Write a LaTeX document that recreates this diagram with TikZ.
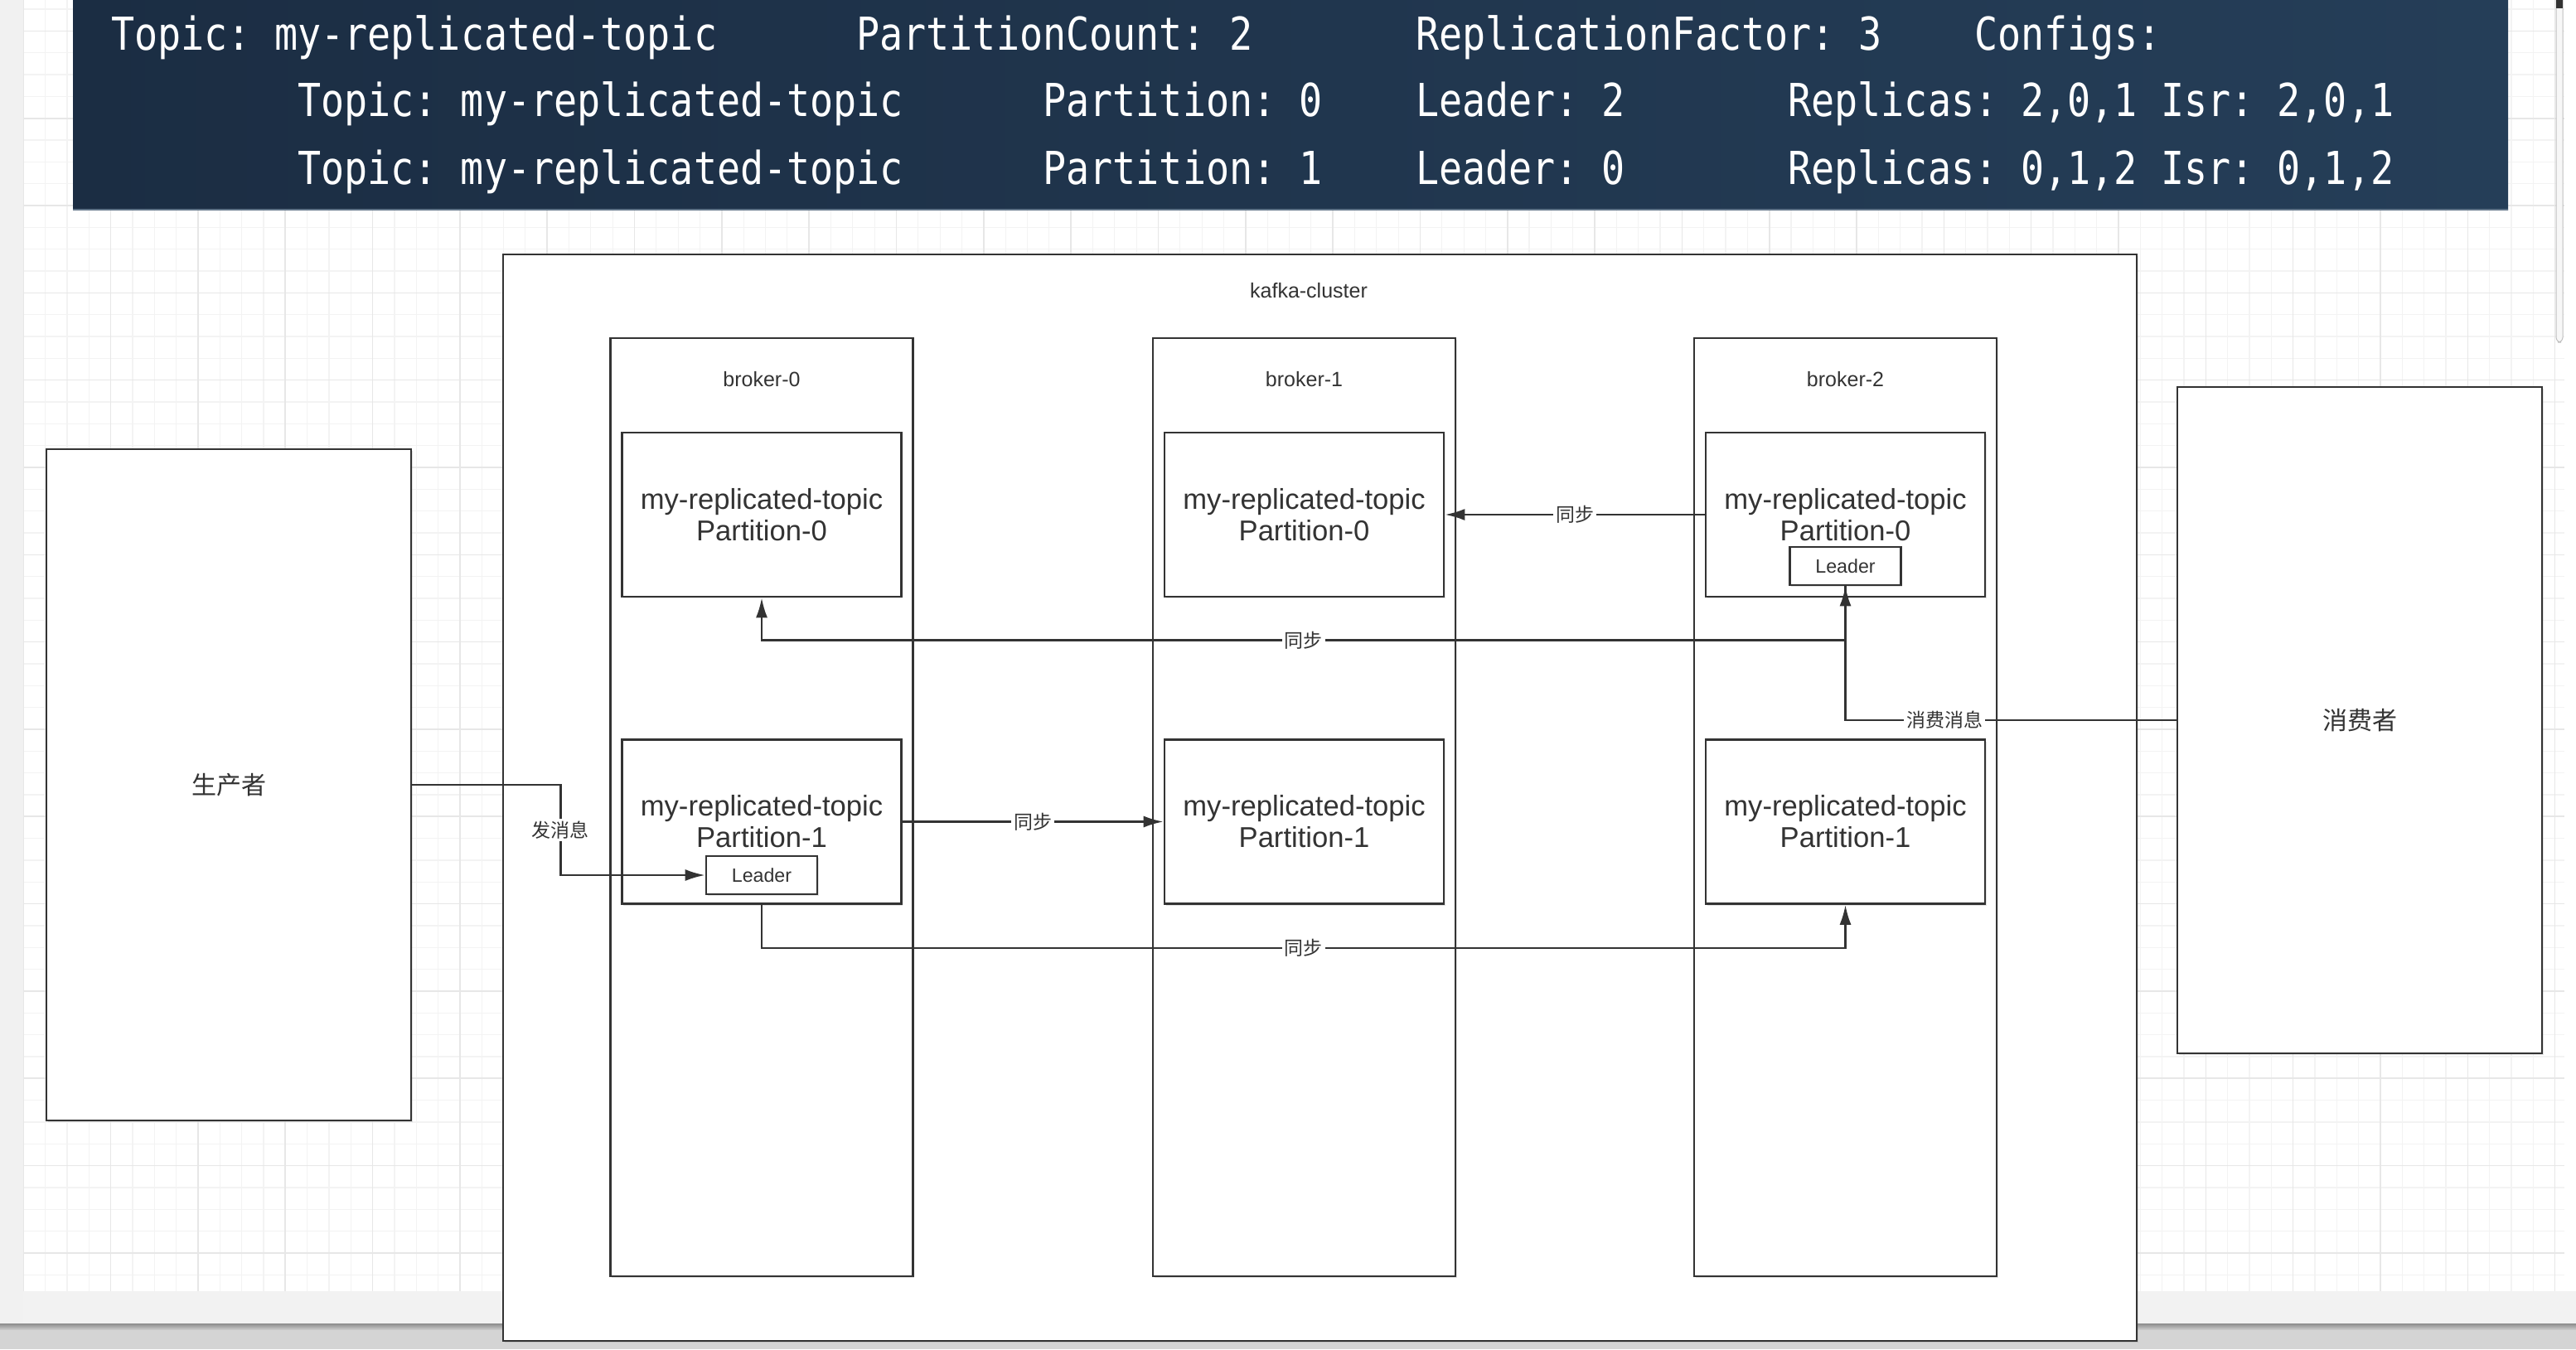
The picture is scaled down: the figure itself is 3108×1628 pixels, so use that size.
\documentclass[tikz,border=0pt]{standalone}
\usepackage{fontspec}
\usepackage{graphicx}
\setmainfont{Liberation Sans}
\newfontfamily\cjkfont{Noto Sans CJK SC}
\newfontfamily\bannermono{DejaVu Sans Mono}
\usetikzlibrary{arrows.meta,shadows}
\definecolor{ink}{RGB}{51,51,51}
\definecolor{navyL}{RGB}{27,45,67}
\definecolor{navyR}{RGB}{37,62,88}
\definecolor{gridminor}{RGB}{243,243,243}
\definecolor{gridmajor}{RGB}{231,231,231}
\definecolor{sidegray}{RGB}{241,241,241}
\newcommand{\bannerx}[1]{\scalebox{0.852}[1]{#1}}
\frenchspacing
\begin{document}
\begin{tikzpicture}[x=0.5pt,y=-0.5pt,
  box/.style={draw=ink,line width=1.3pt,fill=white,inner sep=0pt,text=ink,
      drop shadow={shadow xshift=0.8pt,shadow yshift=-1.2pt,opacity=0.22}},
  clusterbox/.style={box,minimum width=985.5pt,minimum height=655.5pt},
  brokerbox/.style={box,minimum width=182.5pt,minimum height=566pt},
  partbox/.style={box,minimum width=168.5pt,minimum height=99pt,align=center,font=\fontsize{17.3}{19}\selectfont},
  leaderbox/.style={box,minimum width=67pt,minimum height=23pt,font=\fontsize{11.6}{13}\selectfont},
  smalllabel/.style={text=ink,font=\fontsize{12.5}{14}\selectfont,inner sep=0pt},
  actorbox/.style={box,minimum width=220pt,font=\cjkfont\fontsize{15}{17}\selectfont},
  conn/.style={draw=ink,line width=1.3pt,-{Latex[length=12pt,width=7pt]}},
  clab/.style={fill=white,text=ink,inner sep=1.5pt,font=\cjkfont\fontsize{11.5}{13}\selectfont},
  bt/.style={text=white,anchor=base west,inner sep=0pt,font=\bannermono\fontsize{27.4}{30}\selectfont\frenchspacing},
]
\useasboundingbox (0,0) rectangle (3108,1628);
% canvas background
\fill[white] (0,0) rectangle (3108,1628);
\fill[sidegray] (0,0) rectangle (28.3,1628);
\fill[black!5] (28.3,1558) rectangle (3108,1597);
\shade[top color=black!45,bottom color=black!18] (0,1597) rectangle (3108,1605);
\fill[black!17] (0,1605) rectangle (3108,1628);
% grid
\foreach \i in {0,...,116} {
  \pgfmathsetmacro\xx{28.3+\i*26.33}
  \draw[gridminor,line width=0.6pt] (\xx,0) -- (\xx,1558);
}
\foreach \j in {0,...,58} {
  \pgfmathsetmacro\yy{11.07+\j*26.33}
  \draw[gridminor,line width=0.6pt] (28.3,\yy) -- (3094,\yy);
}
\foreach \i in {0,...,29} {
  \pgfmathsetmacro\xx{28.3+\i*105.32}
  \draw[gridmajor,line width=0.8pt] (\xx,0) -- (\xx,1558);
}
\foreach \j in {0,...,14} {
  \pgfmathsetmacro\yy{37.4+\j*105.32}
  \draw[gridmajor,line width=0.8pt] (28.3,\yy) -- (3094,\yy);
}
% scrollbar
\draw[black!25,fill=black!3,line width=0.5pt,rounded corners=3pt] (3084,-6) rectangle (3092,413);
\fill[black!80] (3084,0) rectangle (3092,10);
% banner
\fill[left color=navyL,right color=navyR] (88,0) rectangle (3026,253);
\draw[color={rgb,255:red,95;green,115;blue,135},line width=0.7pt] (88,253) -- (3026,253);
\node[bt] (t1a) at (134,60) {\bannerx{Topic: my-replicated-topic}};
\node[bt] (t1b) at (1033,60) {\bannerx{PartitionCount: 2}};
\node[bt] (t1c) at (1707.6,60) {\bannerx{ReplicationFactor: 3}};
\node[bt] (t1d) at (2382,60) {\bannerx{Configs:}};
\node[bt] (t2a) at (358.8,140) {\bannerx{Topic: my-replicated-topic}};
\node[bt] (t2b) at (1258,140) {\bannerx{Partition: 0}};
\node[bt] (t2c) at (1707.6,140) {\bannerx{Leader: 2}};
\node[bt] (t2d) at (2157,140) {\bannerx{Replicas: 2,0,1 Isr: 2,0,1}};
\node[bt] (t3a) at (358.8,222) {\bannerx{Topic: my-replicated-topic}};
\node[bt] (t3b) at (1258,222) {\bannerx{Partition: 1}};
\node[bt] (t3c) at (1707.6,222) {\bannerx{Leader: 0}};
\node[bt] (t3d) at (2157,222) {\bannerx{Replicas: 0,1,2 Isr: 0,1,2}};
% cluster
\node[clusterbox] (cluster) at (1592.5,962.5) {};
\node[smalllabel] (clusterlab) at (1579,351) {kafka-cluster};
% brokers
\node[brokerbox] (br0) at (919,974) {};
\node[brokerbox] (br1) at (1573.5,974) {};
\node[brokerbox] (br2) at (2226.5,974) {};
\node[smalllabel] (br0lab) at (919,458) {broker-0};
\node[smalllabel] (br1lab) at (1573.5,458) {broker-1};
\node[smalllabel] (br2lab) at (2226.5,458) {broker-2};
% partitions
\node[partbox] (b0p0) at (919,621) {my-replicated-topic\\Partition-0};
\node[partbox] (b1p0) at (1573.5,621) {my-replicated-topic\\Partition-0};
\node[partbox] (b2p0) at (2226.5,621) {my-replicated-topic\\Partition-0};
\node[partbox] (b0p1) at (919,991.5) {my-replicated-topic\\Partition-1};
\node[partbox] (b1p1) at (1573.5,991.5) {my-replicated-topic\\Partition-1};
\node[partbox] (b2p1) at (2226.5,991.5) {my-replicated-topic\\Partition-1};
% leaders
\node[leaderbox] (ld0) at (919,1056) {Leader};
\node[leaderbox] (ld2) at (2226.5,683) {Leader};
% producer / consumer
\node[actorbox,minimum height=405pt] (prod) at (276,947) {生产者};
\node[actorbox,minimum height=402pt] (cons) at (2847,869) {消费者};
% connectors
\draw[conn] (b2p0.west) -- node[clab]{同步} (b1p0.east);
\draw[conn] (ld2.south) -- ++(0,65) -| node[clab,pos=0.25]{同步} (b0p0.south);
\draw[conn] (b0p1.east) -- node[clab]{同步} (b1p1.west);
\draw[conn] (b0p1.south) -- ++(0,52) -| node[clab,pos=0.25]{同步} (b2p1.south);
\draw[conn] (prod.east) -- ++(179,0) |- node[clab,pos=0.25]{发消息} (ld0.west);
\draw[conn] (cons.west) -- node[clab,pos=0.7]{消费消息} (ld2.south |- cons.west) -- (ld2.south);
\end{tikzpicture}
\end{document}
